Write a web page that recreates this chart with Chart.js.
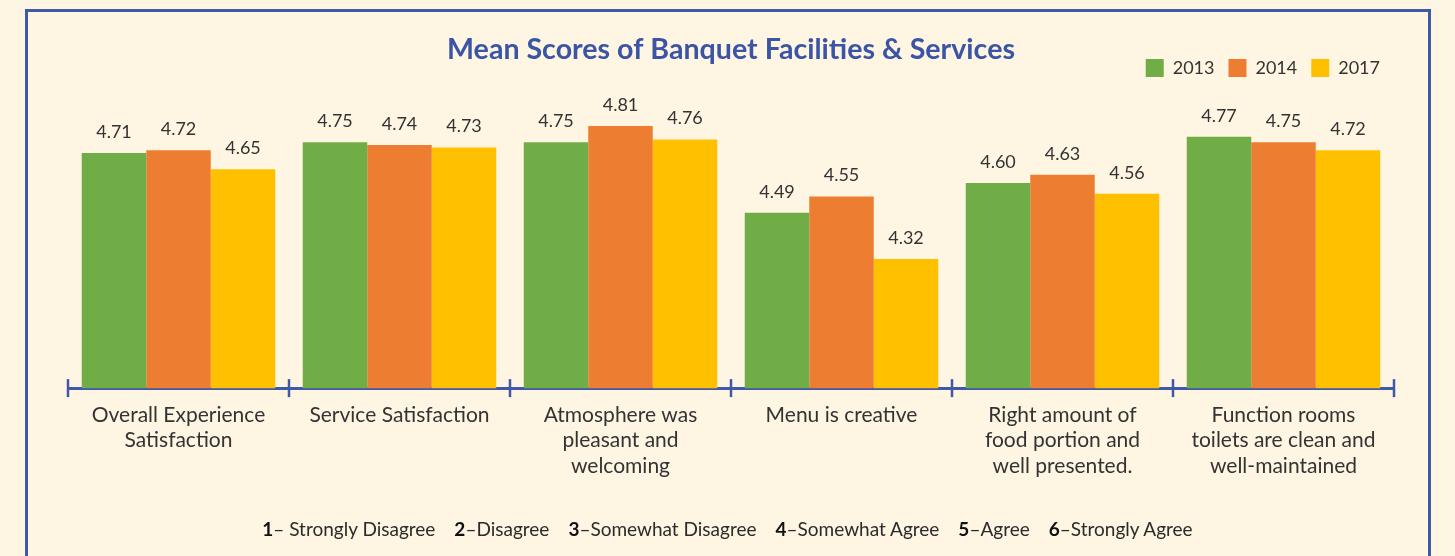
<!DOCTYPE html>
<html>
<head>
<meta charset="utf-8">
<script src="https://cdn.jsdelivr.net/npm/chart.js@4.4.0/dist/chart.umd.min.js"></script>
<style>
html,body{margin:0;padding:0;background:#FFF5E3;overflow:hidden;}
#wrap{position:relative;width:1455px;height:556px;background:#FFF5E3;}
#frame{position:absolute;left:25px;top:9px;width:1406px;height:620px;border:3px solid #4058A8;box-sizing:border-box;pointer-events:none;}
canvas{position:absolute;left:0;top:0;}
#foot{position:absolute;left:0;width:1455px;top:518px;text-align:center;font-family:Lato,sans-serif;font-size:19px;line-height:22px;color:#2b2b2b;white-space:nowrap;}
#foot span{margin:0 9.5px;}
#foot b{font-weight:700;color:#111;}
</style>
</head>
<body>
<div id="wrap">
<canvas id="c" width="1455" height="556"></canvas>
<div id="frame"></div>
<div id="foot"></div>
</div>
<script>
// ---- data ----
const categories = [
  ["Overall Experience", "Satisfaction"],
  "Service Satisfaction",
  ["Atmosphere was", "pleasant and", "welcoming"],
  "Menu is creative",
  ["Right amount of", "food portion and", "well presented."],
  ["Function rooms", "toilets are clean and", "well-maintained"]
];
const years = ["2013", "2014", "2017"];
const scores2013 = [4.71, 4.75, 4.75, 4.49, 4.60, 4.77];
const scores2014 = [4.72, 4.74, 4.81, 4.55, 4.63, 4.75];
const scores2017 = [4.65, 4.73, 4.76, 4.32, 4.56, 4.72];
const scaleNumbers = ["1", "2", "3", "4", "5", "6"];
const scaleTexts = ["\u2013 Strongly Disagree", "\u2013Disagree", "\u2013Somewhat Disagree", "\u2013Somewhat Agree", "\u2013Agree", "\u2013Strongly Agree"];
const chartTitle = "Mean Scores of Banquet Facilities & Services";

// ---- styles ----
const colors = ["#70AD47", "#ED7D31", "#FFC000"];
const axisBlue = "#4058A8";
const textDark = "#333333";

// footnote
const foot = document.getElementById('foot');
scaleNumbers.forEach((n, i) => {
  const s = document.createElement('span');
  const b = document.createElement('b');
  b.textContent = n;
  s.appendChild(b);
  s.appendChild(document.createTextNode(scaleTexts[i]));
  foot.appendChild(s);
});

const valueLabels = {
  id: 'valueLabels',
  afterDatasetsDraw(chart) {
    const ctx = chart.ctx;
    ctx.save();
    ctx.font = '18px Lato';
    ctx.fillStyle = textDark;
    ctx.textAlign = 'center';
    ctx.textBaseline = 'middle';
    chart.data.datasets.forEach((ds, i) => {
      chart.getDatasetMeta(i).data.forEach((bar, j) => {
        ctx.fillText(ds.data[j].toFixed(2), bar.x, bar.y - 21);
      });
    });
    ctx.restore();
  }
};

const axisTicks = {
  id: 'axisTicks',
  afterDraw(chart) {
    const xs = chart.scales.x;
    const n = chart.data.labels.length;
    const step = xs.width / n;
    const y = chart.chartArea.bottom;
    const ctx = chart.ctx;
    ctx.save();
    ctx.strokeStyle = axisBlue;
    ctx.lineWidth = 2.5;
    for (let i = 0; i <= n; i++) {
      const x = xs.left + i * step;
      ctx.beginPath();
      ctx.moveTo(x, y - 9);
      ctx.lineTo(x, y + 9);
      ctx.stroke();
    }
    ctx.restore();
  }
};

new Chart(document.getElementById('c'), {
  type: 'bar',
  data: {
    labels: categories,
    datasets: [
      { label: years[0], data: scores2013, backgroundColor: colors[0] },
      { label: years[1], data: scores2014, backgroundColor: colors[1] },
      { label: years[2], data: scores2017, backgroundColor: colors[2] }
    ]
  },
  options: {
    responsive: false,
    devicePixelRatio: 1,
    animation: false,
    layout: { padding: { top: 33, left: 68, right: 61, bottom: 63 } },
    datasets: { bar: { categoryPercentage: 0.8756, barPercentage: 1.0, borderWidth: 0 } },
    plugins: {
      title: {
        display: true,
        text: chartTitle,
        color: '#3B55A6',
        font: { family: 'Lato', size: 28.6, weight: 'bold', lineHeight: 1.2 },
        padding: { top: 0, bottom: -22.3 }
      },
      legend: {
        display: true,
        position: 'top',
        align: 'end',
        labels: {
          boxWidth: 18,
          boxHeight: 18,
          padding: 14,
          color: textDark,
          font: { family: 'Lato', size: 18 }
        }
      },
      tooltip: { enabled: false }
    },
    scales: {
      x: {
        grid: { display: false, drawTicks: false, offset: true },
        border: { display: true, color: axisBlue, width: 3 },
        ticks: {
          color: textDark,
          font: { family: 'Lato', size: 21, lineHeight: 1.22 },
          padding: 14,
          autoSkip: false,
          maxRotation: 0
        }
      },
      y: {
        display: false,
        min: 3.845,
        max: 4.953
      }
    }
  },
  plugins: [valueLabels, axisTicks]
});
</script>
</body>
</html>
